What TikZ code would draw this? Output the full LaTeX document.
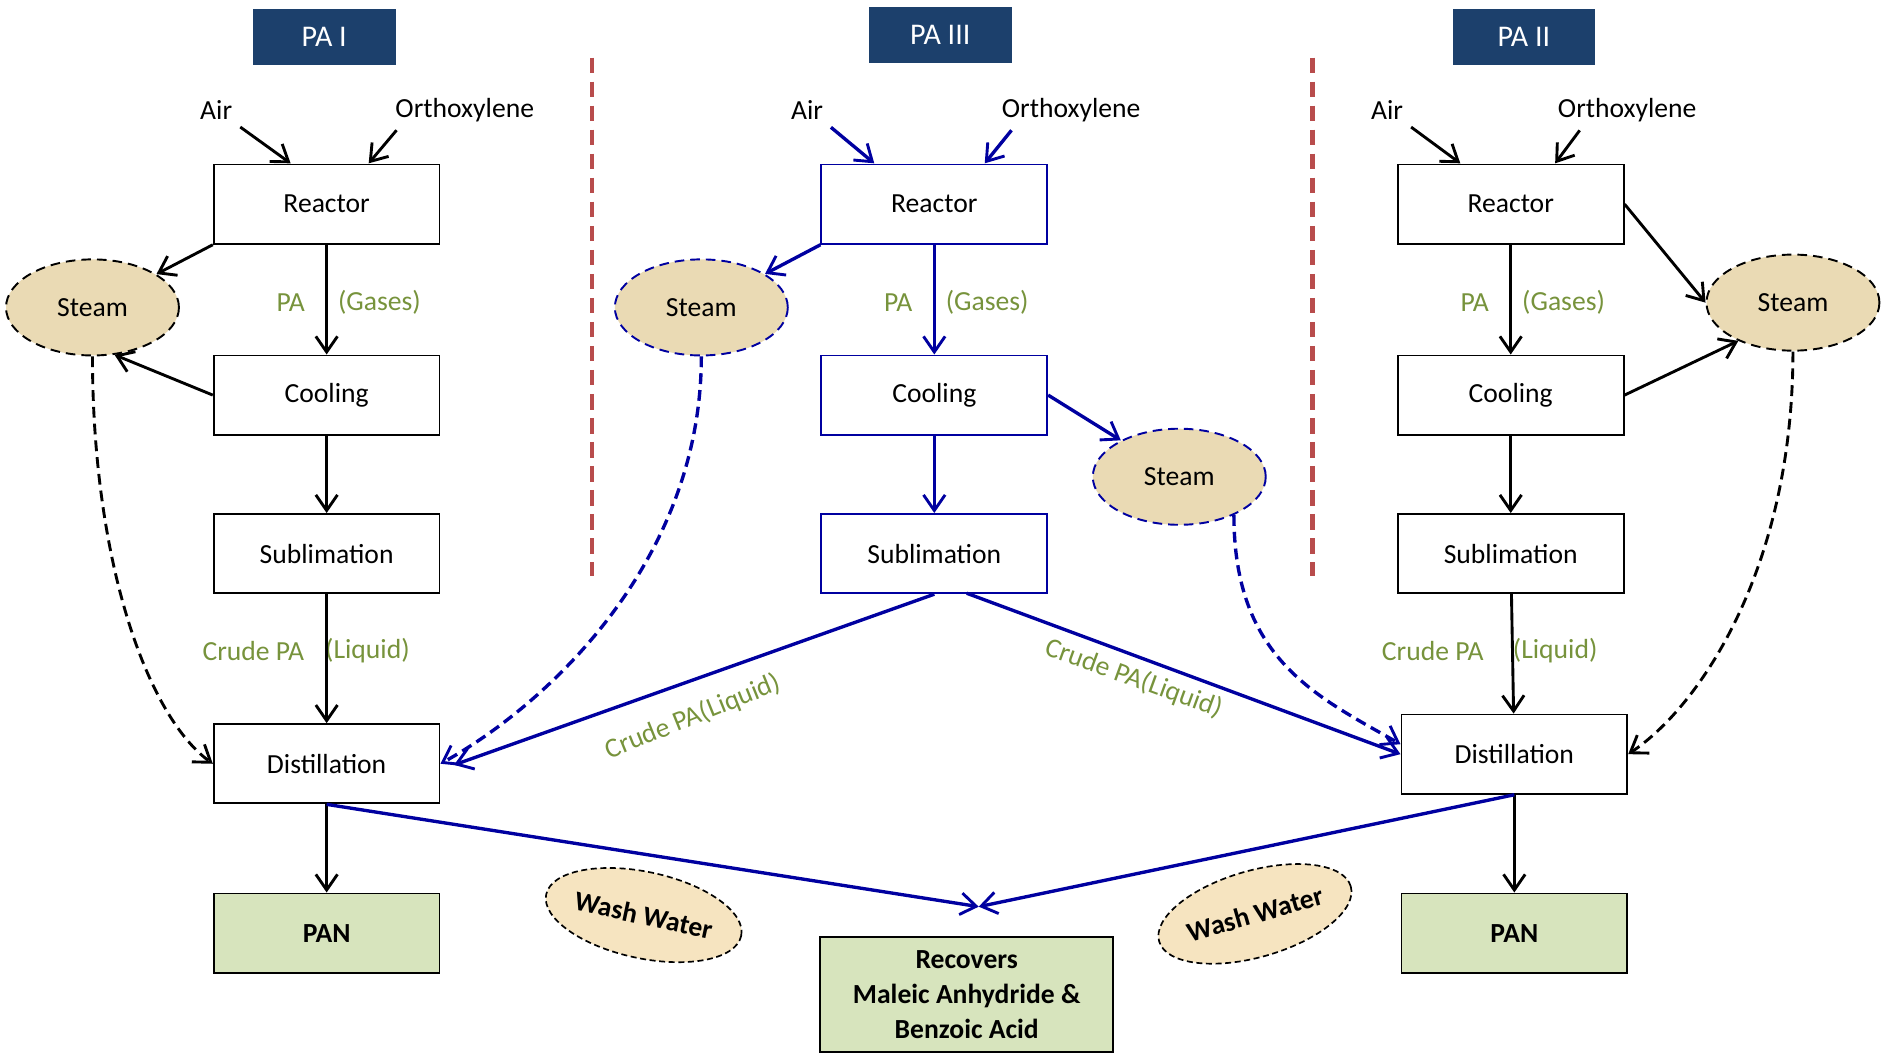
\documentclass[tikz,border=0pt]{standalone}
\usepackage{fontspec}
\setmainfont{Carlito}
\usepackage{tikz}
\usetikzlibrary{arrows.meta,shapes.geometric}

\definecolor{hdrblue}{RGB}{28,64,108}
\definecolor{pnavy}{RGB}{0,0,160}
\definecolor{labgreen}{RGB}{119,147,60}
\definecolor{steamtan}{RGB}{234,218,180}
\definecolor{washtan}{RGB}{246,228,192}
\definecolor{pangreen}{RGB}{215,228,189}
\definecolor{sepred}{RGB}{184,76,76}

\begin{document}
\begin{tikzpicture}[x=1pt, y=-1pt,
    font=\fontsize{23}{27}\selectfont,
    box/.style={draw, line width=1.6pt, minimum width=188pt, minimum height=66pt, fill=white},
    bluebox/.style={box, draw=pnavy},
    prod/.style={box, fill=pangreen, font=\fontsize{23}{29}\selectfont\bfseries},
    hdr/.style={fill=hdrblue, text=white, minimum width=119pt, minimum height=47pt, font=\fontsize{25}{30}\selectfont},
    steam/.style={ellipse, draw, dash pattern=on 8pt off 5pt, line width=1.6pt, fill=steamtan, minimum width=144pt, minimum height=80pt, inner sep=0pt},
    wash/.style={ellipse, draw, dash pattern=on 5pt off 3pt, line width=1.4pt, fill=washtan, minimum width=166pt, minimum height=72pt, inner sep=0pt, font=\fontsize{23}{27}\selectfont\bfseries},
    flow/.style={-{Straight Barb[length=13pt,width=18pt,line width=2.4pt]}, line width=2.4pt},
    flowb/.style={flow, draw=pnavy, line width=2.8pt},
    ret/.style={dash pattern=on 9pt off 5pt},
    lbl/.style={text=labgreen},
    sep/.style={draw=sepred, line width=3.5pt, dash pattern=on 13pt off 7pt}]
  \useasboundingbox (0,0) rectangle (1568,877);

  % headers
  \node[hdr] (h1) at (270,31) {PA I};
  \node[hdr] (h3) at (783,29) {PA III};
  \node[hdr] (h2) at (1269,31) {PA II};

  \draw[sep] (493,48) -- (493,480);
  \draw[sep] (1093,48) -- (1093,480);

  % PA I
  \node (air1) at (180,92) {Air};
  \node (ox1) at (387,92) {Orthoxylene};
  \node[box] (r1) at (272,170) {Reactor};
  \node[box] (c1) at (272,329) {Cooling};
  \node[box] (s1) at (272,461) {Sublimation};
  \node[box] (d1) at (272,636) {Distillation};
  \node[prod] (p1) at (272,777) {PAN};
  \node[steam] (st1) at (77,256) {Steam};
  \node[lbl] (pa1) at (242,252) {PA};
  \node[lbl] (gas1) at (316,252) {(Gases)};
  \node[lbl] (cr1) at (211,542) {Crude PA};
  \node[lbl] (liq1) at (306,542) {(Liquid)};
  \coordinate (r1a) at (242,136);
  \coordinate (r1b) at (307,136);
  \draw[flow, shorten <=4pt] (air1.south east) -- (r1a);
  \draw[flow, shorten <=4pt] ([xshift=7pt]ox1.south west) -- (r1b);
  \draw[flow] (r1) -- (c1);
  \draw[flow] (c1) -- (s1);
  \draw[flow] (s1) -- (d1);
  \draw[flow] (d1) -- (p1);
  \draw[flow] (r1.south west) -- (st1);
  \draw[flow] (c1.west) -- (st1.-65);
  \draw[flow, ret] (st1.south) .. controls +(0,170) and +(-55,-40) .. (d1.west);

  % PA II
  \node (air2) at (1155,92) {Air};
  \node (ox2) at (1355,92) {Orthoxylene};
  \node[box] (r2) at (1258,170) {Reactor};
  \node[box] (c2) at (1258,329) {Cooling};
  \node[box] (s2) at (1258,461) {Sublimation};
  \node[box] (d2) at (1261,628) {Distillation};
  \node[prod] (p2) at (1261,777) {PAN};
  \node[steam] (st2) at (1493,252) {Steam};
  \node[lbl] (pa2) at (1228,252) {PA};
  \node[lbl] (gas2) at (1302,252) {(Gases)};
  \node[lbl] (cr2) at (1193,542) {Crude PA};
  \node[lbl] (liq2) at (1295,542) {(Liquid)};
  \coordinate (r2a) at (1216,136);
  \coordinate (r2b) at (1295,136);
  \draw[flow, shorten <=4pt] (air2.south east) -- (r2a);
  \draw[flow, shorten <=4pt] ([xshift=24pt]ox2.south west) -- (r2b);
  \draw[flow] (r2) -- (c2);
  \draw[flow] (c2) -- (s2);
  \draw[flow] (s2) -- (d2);
  \draw[flow] (d2) -- (p2);
  \draw[flow] (r2.east) -- (st2.west);
  \draw[flow] (c2.east) -- (st2.-145);
  \draw[flow, ret] (st2.south) .. controls +(0,180) and +(60,-40) .. (d2.east);

  % PA III
  \node (air3) at (672,92) {Air};
  \node (ox3) at (892,92) {Orthoxylene};
  \node[bluebox] (r3) at (778,170) {Reactor};
  \node[bluebox] (c3) at (778,329) {Cooling};
  \node[bluebox] (s3) at (778,461) {Sublimation};
  \node[steam, draw=pnavy] (st3) at (584,256) {Steam};
  \node[steam, draw=pnavy] (st4) at (982,397) {Steam};
  \node[lbl] (pa3) at (748,252) {PA};
  \node[lbl] (gas3) at (822,252) {(Gases)};
  \coordinate (r3a) at (728,136);
  \coordinate (r3b) at (820,136);
  \coordinate (s3r) at (805,494);
  \draw[flowb, shorten <=4pt] (air3.south east) -- (r3a);
  \draw[flowb, shorten <=4pt] ([xshift=14pt]ox3.south west) -- (r3b);
  \draw[flowb] (r3) -- (c3);
  \draw[flowb] (c3) -- (s3);
  \draw[flowb] (r3.south west) -- (st3);
  \draw[flowb] (c3.east) -- (st4);
  \draw[flowb, shorten >=12pt] (s3.south) -- (d1.-3);
  \draw[flowb] (s3r) -- (d2.west);
  \node[lbl, rotate=22] (cl3) at (577,597) {Crude PA(Liquid)};
  \node[lbl, rotate=-20] (cr3) at (944,565) {Crude PA(Liquid)};
  \draw[flowb, ret] (st3.south) .. controls +(0,170) and +(90,-50) .. (d1.east);
  \draw[flowb, ret] (st4.-35) .. controls +(0,120) and +(-70,-40) .. (d2.175);

  % recovery
  \node[prod, minimum width=244pt, minimum height=96pt, align=center] (rec) at (805,828) {Recovers\\Maleic Anhydride \&\\Benzoic Acid};
  \coordinate (recin) at (815,755);
  \draw[flowb] (d1.south) -- (recin);
  \draw[flowb] (d2.south) -- (recin);
  \node[wash, rotate=-12] (ww1) at (536,762) {Wash Water};
  \node[wash, rotate=16] (ww2) at (1045,761) {Wash Water};
\end{tikzpicture}
\end{document}
